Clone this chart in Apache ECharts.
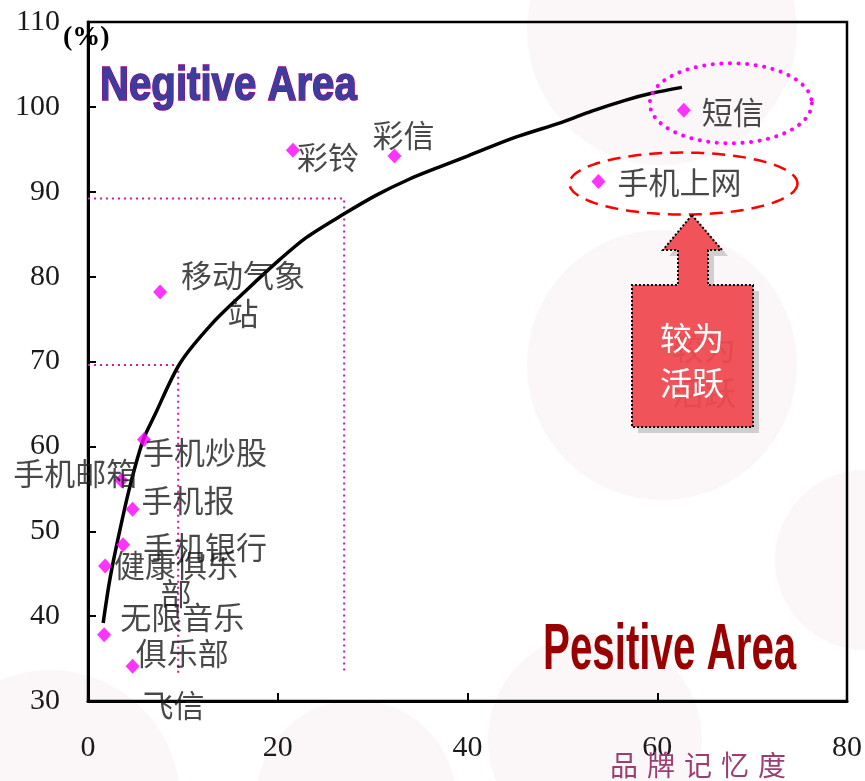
<!DOCTYPE html>
<html>
<head>
<meta charset="utf-8">
<script src="https://cdn.jsdelivr.net/npm/echarts@6/dist/echarts.min.js"></script>
<style>
  html, body { margin: 0; padding: 0; background: #fff; }
  #chart { width: 865px; height: 781px; }
</style>
</head>
<body>
<div id="chart"></div>
<script>
// Mobile value-added services: brand awareness (x) vs. usage (y, %)
const services = ['短信', '手机上网', '彩铃', '彩信', '移动气象\n站', '手机炒股', '手机邮箱',
                  '手机报', '手机银行', '健康俱乐\n部', '无限音乐\n俱乐部', '飞信'];
const awareness = [62.8, 53.8, 21.6, 32.3, 7.6, 5.9, 3.5, 4.7, 3.7, 1.8, 1.7, 4.7];
const usage = [99.6, 91.2, 94.9, 94.2, 78.2, 60.8, 56.0, 52.6, 48.4, 45.9, 37.8, 34.1];

// Fitted trend curve
const trendX = [1.6, 2.3, 3.2, 4.4, 5.8, 7.0, 9.7, 13.1, 16.7, 20.2, 23.0, 27.0, 30.4, 33.9, 37.0, 40.0, 45.0, 50.0, 53.1, 56.7, 59.4, 62.6];
const trendY = [39.2, 44.3, 49.3, 55.2, 60.7, 63.6, 69.8, 74.5, 78.4, 82.0, 84.6, 87.4, 89.6, 91.5, 92.9, 94.2, 96.4, 98.2, 99.5, 100.8, 101.6, 102.3];

// Reference guides (dotted)
const guideLow = [[0, 69.6], [9.5, 69.6], [9.5, 33.1]];
const guideHigh = [[0, 89.2], [27.0, 89.2], [27.0, 33.4]];

const xTicks = { min: 0, max: 80, step: 20 };
const yTicks = { min: 30, max: 110, step: 10 };

// Label placement for each service (offset from point centre, in px)
const labelLayout = [
  { dx: 18, dy: 2, align: 'left' },
  { dx: 19, dy: 1, align: 'left' },
  { dx: 4, dy: 7, align: 'left' },
  { dx: -22, dy: -21, align: 'left' },
  { dx: 83, dy: 2, align: 'center', lh: 38 },
  { dx: -1, dy: 13, align: 'left' },
  { dx: -108, dy: -7, align: 'left' },
  { dx: 9, dy: -9, align: 'left' },
  { dx: 20, dy: 2, align: 'left' },
  { dx: 71, dy: 13, align: 'center', lh: 28 },
  { dx: 78, dy: 0, align: 'center', lh: 36 },
  { dx: 10, dy: 39, align: 'left' }
];

const cjk = '"Noto Sans CJK SC", "Noto Sans CJK JP", sans-serif';
const serif = '"Liberation Serif", "DejaVu Serif", serif';

const chart = echarts.init(document.getElementById('chart'), null, { renderer: 'canvas' });

const pointData = services.map((name, i) => {
  const L = labelLayout[i];
  return {
    name: name,
    value: [awareness[i], usage[i]],
    label: {
      show: true,
      formatter: name,
      position: 'inside',
      align: L.align,
      verticalAlign: 'middle',
      offset: [L.dx, L.dy],
      lineHeight: L.lh || 32
    }
  };
});

const axisCommon = {
  type: 'value',
  axisLine: { show: true, lineStyle: { color: '#000', width: 3 } },
  axisTick: { show: true, inside: true, length: 8, lineStyle: { color: '#000', width: 2 } },
  splitLine: { show: false },
  axisLabel: { fontFamily: serif, fontSize: 30, color: '#1a1a1a' }
};

chart.setOption({
  animation: false,
  backgroundColor: '#ffffff',
  grid: { left: 88, right: 16, top: 22, bottom: 80, show: true, borderColor: '#000', borderWidth: 2.5, backgroundColor: 'transparent' },
  xAxis: Object.assign({}, axisCommon, {
    min: xTicks.min, max: xTicks.max, interval: xTicks.step,
    axisLabel: Object.assign({}, axisCommon.axisLabel, { margin: 32 })
  }),
  yAxis: Object.assign({}, axisCommon, {
    min: yTicks.min, max: yTicks.max, interval: yTicks.step,
    axisLabel: Object.assign({}, axisCommon.axisLabel, { margin: 28 })
  }),
  series: [
    {
      type: 'line', data: guideLow, symbol: 'none', silent: true, z: 1,
      lineStyle: { color: '#d818a8', width: 2, type: [2, 4] }
    },
    {
      type: 'line', data: guideHigh, symbol: 'none', silent: true, z: 1,
      lineStyle: { color: '#d818a8', width: 2, type: [2, 4] }
    },
    {
      type: 'line', data: trendX.map((x, i) => [x, trendY[i]]), symbol: 'none', smooth: 0.3, z: 3,
      lineStyle: { color: '#000', width: 3.5 }
    },
    {
      type: 'scatter', data: pointData, symbol: 'diamond', symbolSize: [14, 15], z: 4,
      itemStyle: { color: '#ff00ff' },
      label: { fontFamily: cjk, fontSize: 31, color: '#1a1a1a' }
    }
  ]
});

function ellipsePoints(cx, cy, rx, ry, n) {
  const pts = [];
  for (let i = 0; i < n; i++) {
    const t = 2 * Math.PI * i / n;
    pts.push([cx + rx * Math.cos(t), cy + ry * Math.sin(t)]);
  }
  return pts;
}

const smsPx = chart.convertToPixel({ gridIndex: 0 }, [awareness[0], usage[0]]);
const webPx = chart.convertToPixel({ gridIndex: 0 }, [awareness[1], usage[1]]);

// Block arrow pointing up at the highlighted services
const arrow = [[692, 215], [722, 250], [708, 250], [708, 285], [753, 285], [753, 427],
               [632, 427], [632, 285], [678, 285], [678, 250], [663, 250]];

const bgCircles = [
  [662, 30, 135], [662, 365, 135], [50, 800, 130], [356, 800, 100], [595, 740, 107], [865, 560, 90]
];

const xTitle = ['品', '牌', '记', '忆', '度'];

chart.setOption({
  graphic: [].concat(
    bgCircles.map(c => ({
      type: 'circle', z: -10, silent: true,
      shape: { cx: c[0], cy: c[1], r: c[2] },
      style: { fill: '#fbf7f9' }
    })),
    [
      {
        type: 'text', x: 63, y: 38, z: 10,
        style: { text: '(%)', font: 'bold 28px ' + serif, fill: '#000', verticalAlign: 'middle' }
      },
      {
        type: 'text', x: 100, y: 86, scaleX: 0.82, z: 10,
        style: { text: 'Negitive Area', font: 'bold 49px "Liberation Sans", Arial, sans-serif',
                 fill: '#3d3d9e', stroke: '#8a0a8a', lineWidth: 1.6, verticalAlign: 'middle' }
      },
      {
        type: 'text', x: 543, y: 651, scaleX: 0.63, z: 10,
        style: { text: 'Pesitive Area', font: 'bold 64px "Liberation Sans", Arial, sans-serif',
                 fill: '#990000', verticalAlign: 'middle' }
      },
      {
        type: 'polygon', z: 10, silent: true,
        shape: { points: ellipsePoints(smsPx[0] + 47, smsPx[1] - 7, 81, 40, 160) },
        style: { fill: 'none', stroke: '#ff00ff', lineWidth: 4, lineDash: [0.1, 8.5], lineCap: 'round' }
      },
      {
        type: 'polygon', z: 10, silent: true,
        shape: { points: ellipsePoints(webPx[0] + 85, webPx[1] + 2, 114, 31, 200) },
        style: { fill: 'none', stroke: '#ff0000', lineWidth: 2.5, lineDash: [13, 8] }
      },
      {
        type: 'polygon', z: 9, silent: true, x: 6, y: 6,
        shape: { points: arrow },
        style: { fill: '#cfcfcf' }
      },
      {
        type: 'polygon', z: 10, silent: true,
        shape: { points: arrow },
        style: { fill: '#f0545a', stroke: '#000', lineWidth: 2, lineDash: [2, 2] }
      },
      {
        type: 'text', x: 704, y: 370, z: 10,
        style: { text: '较为\n活跃', font: '32px ' + cjk, fill: 'rgba(150,20,20,0.14)',
                 align: 'center', verticalAlign: 'middle', lineHeight: 45 }
      },
      {
        type: 'text', x: 692, y: 360, z: 11,
        style: { text: '较为\n活跃', font: '32px ' + cjk, fill: '#ffffff',
                 align: 'center', verticalAlign: 'middle', lineHeight: 45 }
      }
    ],
    xTitle.map((ch, i) => ({
      type: 'text', x: 610 + i * 37, y: 765, z: 10,
      style: { text: ch, font: '28px ' + cjk, fill: '#9b3f73', verticalAlign: 'middle' }
    }))
  )
});
</script>
</body>
</html>
